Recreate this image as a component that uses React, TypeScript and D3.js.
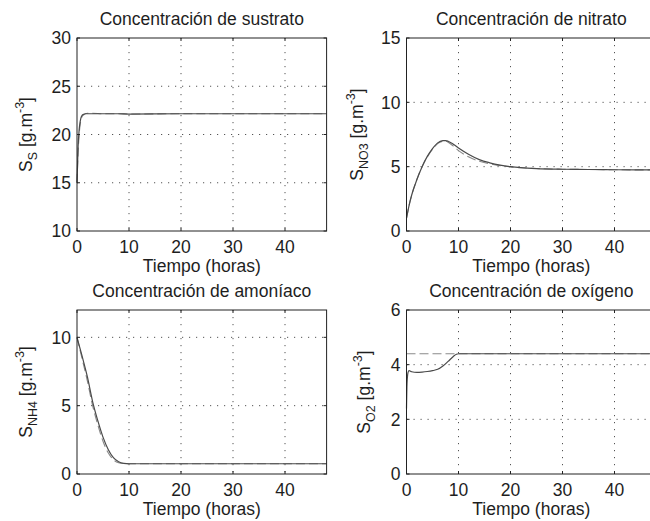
import React from 'react';
import * as d3 from 'd3';

const FONT = '"Liberation Sans", Arial, Helvetica, sans-serif';

const xTicks = [0, 10, 20, 30, 40];
const xLabel = 'Tiempo (horas)';

// concentración de sustrato
const tSus = [0, 0.2, 0.4, 0.6, 0.8, 1, 1.3, 1.6, 2, 3, 5, 8, 10, 20, 30, 48];
const susSolid = [15, 18.6, 20.4, 21.3, 21.8, 22.0, 22.1, 22.15, 22.15, 22.15, 22.15, 22.15, 22.12, 22.15, 22.15, 22.15];
const susDashed = [15, 17.9, 19.9, 21.0, 21.6, 21.9, 22.05, 22.15, 22.2, 22.2, 22.15, 22.15, 22.12, 22.15, 22.15, 22.15];

// concentración de nitrato
const tNo3 = [0, 0.5, 1, 2, 3, 4, 5, 6, 7, 7.5, 8, 9, 10, 12, 14, 16, 18, 20, 22, 25, 30, 35, 40, 48];
const no3Solid = [1.0, 2.0, 2.8, 4.0, 5.0, 5.8, 6.4, 6.85, 7.02, 7.03, 6.98, 6.75, 6.45, 5.95, 5.55, 5.3, 5.12, 5.0, 4.92, 4.85, 4.8, 4.78, 4.76, 4.75];
const no3Dashed = [1.0, 2.0, 2.8, 4.0, 5.0, 5.75, 6.35, 6.8, 6.98, 7.0, 6.9, 6.6, 6.25, 5.75, 5.42, 5.22, 5.08, 4.98, 4.92, 4.86, 4.8, 4.78, 4.76, 4.75];

// concentración de amoníaco
const tNh4 = [0, 1, 2, 3, 4, 5, 6, 7, 8, 9, 10, 15, 20, 30, 48];
const nh4Solid = [10, 8.6, 7.1, 5.3, 3.9, 2.7, 1.8, 1.2, 0.9, 0.78, 0.75, 0.75, 0.75, 0.75, 0.75];
const nh4Dashed = [10, 8.4, 6.8, 5.0, 3.6, 2.4, 1.55, 1.05, 0.82, 0.76, 0.75, 0.75, 0.75, 0.75, 0.75];

// concentración de oxígeno
const tO2 = [0, 0.1, 0.3, 0.5, 1, 2, 3, 4, 5, 6, 7, 8, 9, 9.6, 10, 15, 20, 30, 48];
const o2Solid = [2.4, 3.3, 3.72, 3.78, 3.74, 3.72, 3.73, 3.75, 3.78, 3.83, 3.95, 4.12, 4.3, 4.38, 4.4, 4.4, 4.4, 4.4, 4.4];
const tO2Ref = [0, 48];
const o2Ref = [4.4, 4.4];

const zip = (t: number[], v: number[]) => t.map((d, i) => [d, v[i]] as [number, number]);

type Series = { pts: [number, number][]; dashed: boolean };

type PanelProps = {
  x0: number; y0: number; w: number; h: number;
  yDomain: [number, number]; yTicks: number[];
  title: string; sub: string; labelGap: number;
  series: Series[];
};

function Panel({ x0, y0, w, h, yDomain, yTicks, title, sub, labelGap, series }: PanelProps) {
  const x = d3.scaleLinear().domain([0, 48]).range([0, w]);
  const y = d3.scaleLinear().domain(yDomain).range([h, 0]);
  const line = d3.line<[number, number]>()
    .x(d => x(d[0]))
    .y(d => y(d[1]))
    .curve(d3.curveMonotoneX);

  const gridX = xTicks.filter(t => x(t) > 0.5 && x(t) < w - 0.5);
  const gridY = yTicks.filter(t => y(t) > 0.5 && y(t) < h - 0.5);
  const tl = 3;

  return (
    <g transform={`translate(${x0},${y0})`} fontFamily={FONT} fill="#1e1e1e">
      {gridX.map(t => (
        <line key={'gx' + t} x1={x(t)} x2={x(t)} y1={0} y2={h}
          stroke="#555" strokeWidth={1} strokeDasharray="1.2,5.8" />
      ))}
      {gridY.map(t => (
        <line key={'gy' + t} x1={0} x2={w} y1={y(t)} y2={y(t)}
          stroke="#555" strokeWidth={1} strokeDasharray="1.2,5.8" />
      ))}
      {series.map((s, i) => (
        <path key={i} d={line(s.pts) || ''} fill="none"
          stroke={s.dashed ? '#8a8a8a' : '#4a4a4a'}
          strokeWidth={s.dashed ? 1.1 : 1.2}
          strokeDasharray={s.dashed ? '9,4' : undefined} />
      ))}
      <rect x={0} y={0} width={w} height={h} fill="none" stroke="#222" strokeWidth={1} />
      {xTicks.map(t => (
        <g key={'tx' + t}>
          <line x1={x(t)} x2={x(t)} y1={h} y2={h - tl} stroke="#222" />
          <line x1={x(t)} x2={x(t)} y1={0} y2={tl} stroke="#222" />
          <text x={x(t)} y={h + 22} textAnchor="middle" fontSize={17.5}>{t}</text>
        </g>
      ))}
      {yTicks.map(t => (
        <g key={'ty' + t}>
          <line x1={0} x2={tl} y1={y(t)} y2={y(t)} stroke="#222" />
          <line x1={w} x2={w - tl} y1={y(t)} y2={y(t)} stroke="#222" />
          <text x={-6} y={y(t)} dy="0.36em" textAnchor="end" fontSize={17.5}>{t}</text>
        </g>
      ))}
      <text x={w / 2} y={-13} textAnchor="middle" fontSize={17.5}>{title}</text>
      <text x={w / 2} y={h + 41} textAnchor="middle" fontSize={17.5}>{xLabel}</text>
      <text transform={`translate(${-labelGap},${h / 2}) rotate(-90)`} textAnchor="middle" fontSize={17.5}>
        S<tspan fontSize={12.5} dy={5}>{sub}</tspan>
        <tspan dy={-5}> [g.m</tspan>
        <tspan fontSize={12.5} dy={-8}>-3</tspan>
        <tspan dy={8}>]</tspan>
      </text>
    </g>
  );
}

export default function App() {
  return (
    <div style={{ position: 'fixed', left: 0, top: 0 }}>
      <svg width={650} height={521} style={{ display: 'block', background: '#fff' }}>
        <Panel x0={77} y0={38} w={249.6} h={193} yDomain={[10, 30]} yTicks={[10, 15, 20, 25, 30]}
          title="Concentración de sustrato" sub="S" labelGap={45}
          series={[{ pts: zip(tSus, susDashed), dashed: true }, { pts: zip(tSus, susSolid), dashed: false }]} />
        <Panel x0={406.5} y0={38} w={249.6} h={193} yDomain={[0, 15]} yTicks={[0, 5, 10, 15]}
          title="Concentración de nitrato" sub="NO3" labelGap={44}
          series={[{ pts: zip(tNo3, no3Dashed), dashed: true }, { pts: zip(tNo3, no3Solid), dashed: false }]} />
        <Panel x0={77} y0={310} w={249.6} h={164} yDomain={[0, 12]} yTicks={[0, 5, 10]}
          title="Concentración de amoníaco" sub="NH4" labelGap={45}
          series={[{ pts: zip(tNh4, nh4Dashed), dashed: true }, { pts: zip(tNh4, nh4Solid), dashed: false }]} />
        <Panel x0={406.5} y0={310} w={249.6} h={164} yDomain={[0, 6]} yTicks={[0, 2, 4, 6]}
          title="Concentración de oxígeno" sub="O2" labelGap={37}
          series={[{ pts: zip(tO2Ref, o2Ref), dashed: true }, { pts: zip(tO2, o2Solid), dashed: false }]} />
      </svg>
    </div>
  );
}
